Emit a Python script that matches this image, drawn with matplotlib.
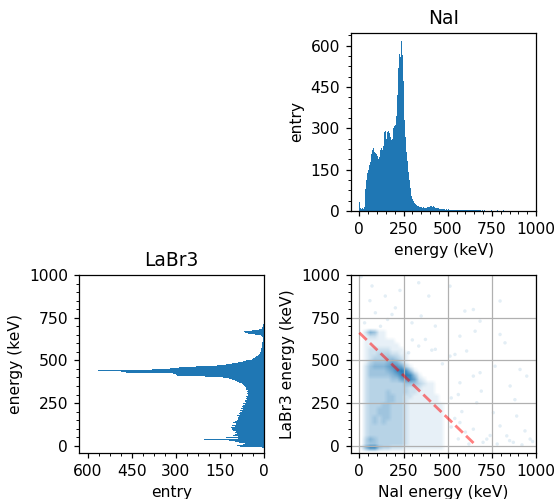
import numpy as np
from matplotlib import pyplot as plt
from matplotlib.colors import ListedColormap

DPI = 112
BIN_WIDTH = 5
CS137 = 662

# NaI spectrum, 5 keV bins starting at 0 keV
nai_start = 0
nai_counts = [33, 12, 8, 10, 7, 14, 45, 80, 112, 138,
              150, 165, 178, 205, 222, 248, 230, 215, 212, 205,
              198, 188, 196, 222, 215, 228, 222, 236, 288, 290,
              262, 285, 280, 290, 282, 270, 258, 262, 300, 310,
              312, 305, 345, 420, 520, 568, 560, 615, 565, 470,
              412, 330, 270, 215, 180, 140, 112, 85, 68, 55,
              44, 36, 28, 24, 20, 18, 17, 15, 16, 14,
              13, 12, 14, 12, 11, 10, 12, 14, 16, 15,
              17, 18, 16, 17, 15, 13, 12, 11, 10, 9,
              8, 8, 7, 8, 6, 7, 6, 5, 6, 5,
              8, 7, 5, 4, 5, 4, 3, 4, 3, 3,
              2, 3, 2, 3, 2, 2, 3, 2, 4, 3,
              2, 3, 4, 3, 2, 3, 4, 3, 5, 3,
              4, 3, 2, 3, 2, 2, 3, 2, 1, 2,
              1, 2, 1, 1, 2, 1, 0, 1, 1, 2,
              1, 0, 1, 1, 0, 1, 2, 1, 0, 1,
              0, 1, 1, 2, 1, 0, 1, 0, 1, 0,
              1, 0, 0, 0, 0, 1, 0, 0, 0, 0]

# LaBr3 spectrum, 5 keV bins starting at -20 keV
labr_start = -20
labr_counts = [0, 5, 298, 80,
               92, 70, 65, 85, 100, 123, 120, 205, 90, 130,
               88, 100, 105, 98, 92, 100, 96, 104, 98, 108,
               110, 112, 100, 108, 96, 102, 94, 105, 98, 92,
               90, 88, 95, 90, 85, 92, 82, 86, 80, 84,
               76, 80, 72, 78, 70, 74, 68, 72, 66, 70,
               62, 65, 60, 66, 58, 62, 57, 60, 56, 58,
               55, 57, 54, 58, 56, 60, 58, 62, 60, 66,
               68, 72, 76, 80, 86, 92, 100, 108, 120, 140,
               160, 200, 295, 300, 310, 470, 486, 486, 566, 380,
               320, 290, 230, 200, 160, 130, 110, 90, 72, 60,
               50, 42, 36, 30, 26, 22, 18, 15, 13, 12,
               11, 10, 10, 9, 9, 8, 8, 7, 6, 6,
               5, 5, 4, 4, 4, 3, 3, 3, 5, 10,
               30, 55, 66, 68, 60, 40, 18, 8, 5, 4,
               3, 2, 2, 1, 1]

# coincidence density (0-9), 25 keV cells, NaI -25..500, LaBr3 700 down to -50
density_cell = 25
density_nai_start = -25
density_labr_top = 700
density_rows = [
    "000000000000000000000",
    "002541100000000000000",
    "001221100000000000000",
    "001111111000000000000",
    "001111111100000000000",
    "001222221110000000000",
    "001223332211000000000",
    "001233344321000000000",
    "001344456531000000000",
    "002455567763100000000",
    "002444456898410000000",
    "002444445689841000000",
    "002333334467862100000",
    "002333333334443211000",
    "002333333333222111000",
    "002333343333221111000",
    "002333344332211111100",
    "002333344332111111100",
    "002333443332111111110",
    "002334443332111111110",
    "002334443332111111110",
    "002343443332111111110",
    "002343433332111111110",
    "002333333332111111110",
    "002333333332111111110",
    "002333333332111111110",
    "003543333332111111110",
    "003443333332111111110",
    "015884332221111111110",
    "000000000000000000000",
]

# sparse coincidences outside the main cloud
sparse_nai = [513, 796, 645, 597, 683, 655, 569, 796, 824, 541, 607, 513, 683, 768, 909,
              569, 645, 853, 947, 664, 758, 890, 796, 834, 937, 721, 645, 569, 966, 871,
              72, 147, 336, 204, 393, 91, 185, 298, 430, 374, 430, 279, 336,
              700, 780, 850, 920, 980, 560, 620, 740, 600, 520, 540, 580, 520, 560,
              30, 120, 160, 60, 230, 10, 470, 410, 350, 300, 690, 880]
sparse_labr = [935, 848, 798, 789, 730, 671, 642, 652, 603, 535, 555, 525, 428, 466, 447,
               369, 408, 350, 408, 252, 194, 174, 116, 58, 87, 39, 97, 136, 39, 20,
               936, 877, 955, 808, 877, 779, 769, 720, 701, 623, 565, 545, 584,
               20, 10, 30, 5, 25, 40, 10, 60, 80, 110, 160, 200, 280, 300,
               720, 700, 740, 850, 910, 990, 480, 560, 760, 620, 320, 270]

NAI_TICKS = [0, 250, 500, 750, 1000]
ENERGY_TICKS = [0, 250, 500, 750, 1000]
ENTRY_TICKS = [0, 150, 300, 450, 600]


def bin_edges(start, counts):
    return start + BIN_WIDTH * np.arange(len(counts) + 1)


fig, axes = plt.subplots(2, 2, figsize=(555 / DPI, 499 / DPI), dpi=DPI)
fig.subplots_adjust(left=0.142, right=0.966, bottom=0.092, top=0.934, wspace=0.47, hspace=0.36)
axes[0, 0].axis('off')

# NaI
ax = axes[0, 1]
edges = bin_edges(nai_start, nai_counts)
ax.hist(edges[:-1], bins=edges, weights=nai_counts, histtype='stepfilled', color='tab:blue')
ax.set_xlim(-47, 1000)
ax.set_xticks(NAI_TICKS)
ax.set_yticks(ENTRY_TICKS)
ax.set_ylim(0, max(nai_counts) * 1.05)
ax.minorticks_on()
ax.set_title('NaI')
ax.set_xlabel('energy (keV)')
ax.set_ylabel('entry')

# LaBr3
ax = axes[1, 0]
edges = bin_edges(labr_start, labr_counts)
ax.hist(edges[:-1], bins=edges, weights=labr_counts, histtype='stepfilled',
        orientation='horizontal', color='tab:blue')
ax.set_ylim(-43, 1000)
ax.set_yticks(ENERGY_TICKS)
ax.set_xticks(ENTRY_TICKS)
ax.set_xlim(631, 0)
ax.minorticks_on()
ax.set_title('LaBr3')
ax.set_xlabel('entry')
ax.set_ylabel('energy (keV)')

# coincidences
ax = axes[1, 1]
density = np.array([[int(c) for c in row] for row in density_rows])
n_rows, n_cols = density.shape
colors = np.zeros((256, 4))
colors[:, :3] = [0.122, 0.467, 0.706]
colors[:, 3] = 0.97 * np.linspace(0, 1, 256)
cmap = ListedColormap(colors)
extent = [density_nai_start, density_nai_start + n_cols * density_cell,
          density_labr_top - n_rows * density_cell, density_labr_top]
ax.imshow(density, cmap=cmap, vmin=0, vmax=9, extent=extent, aspect='auto',
          interpolation='bilinear', origin='upper')
ax.scatter(sparse_nai, sparse_labr, s=5, color='tab:blue', alpha=0.12, edgecolors='none')
ax.plot([0, CS137], [CS137, 0], 'r--', alpha=0.5, lw=1.8)
ax.set_xlim(-47, 1000)
ax.set_ylim(-43, 1000)
ax.set_xticks(NAI_TICKS)
ax.set_yticks(ENERGY_TICKS)
ax.minorticks_on()
ax.grid(True, which='major')
ax.set_xlabel('NaI energy (keV)')
ax.set_ylabel('LaBr3 energy (keV)')

fig.savefig('out.png', dpi=DPI)
